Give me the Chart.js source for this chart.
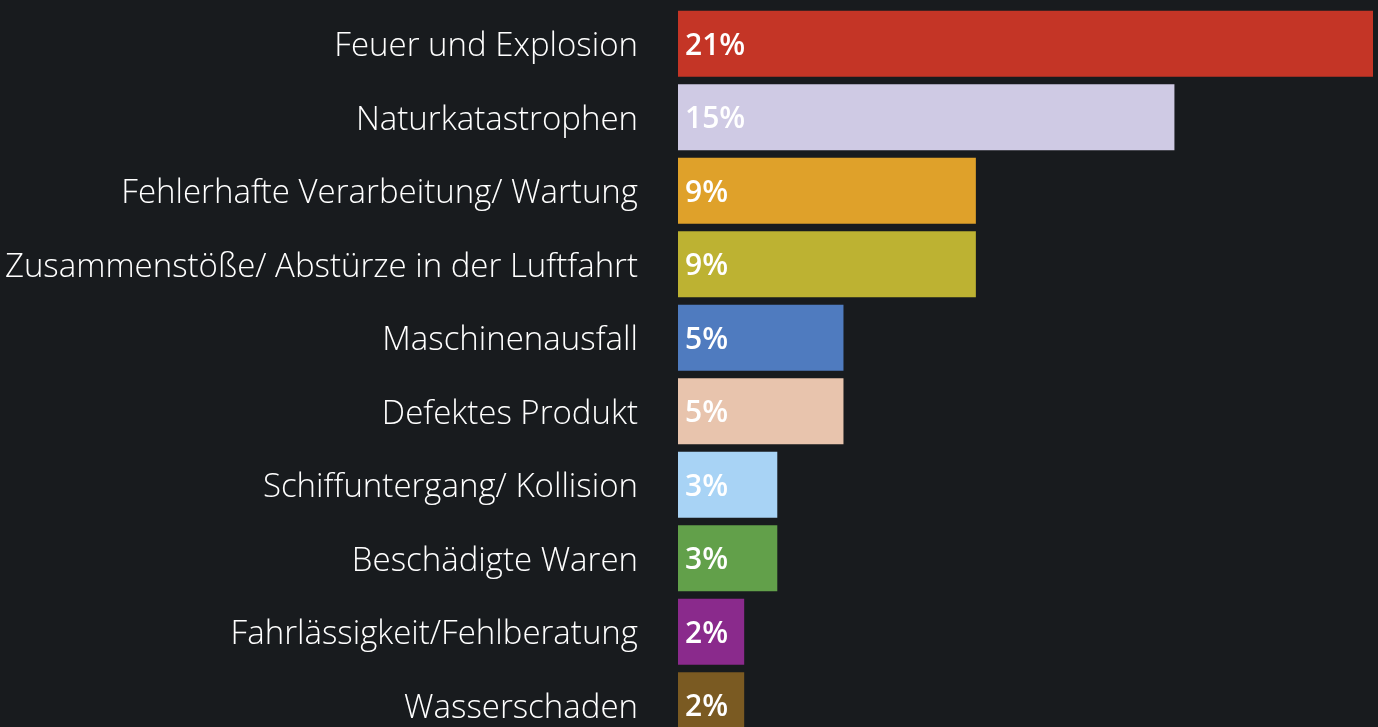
<!DOCTYPE html>
<html>
<head>
<meta charset="utf-8">
<script src="https://cdn.jsdelivr.net/npm/chart.js@4"></script>
<style>
  html, body { margin: 0; padding: 0; background: #181b1e; overflow: hidden; }
  #wrap { width: 1378px; height: 742px; }
</style>
</head>
<body>
<div id="wrap"><canvas id="lossChart"></canvas></div>
<script>
const categories = [
  'Feuer und Explosion',
  'Naturkatastrophen',
  'Fehlerhafte Verarbeitung/ Wartung',
  'Zusammenstöße/ Abstürze in der Luftfahrt',
  'Maschinenausfall',
  'Defektes Produkt',
  'Schiffuntergang/ Kollision',
  'Beschädigte Waren',
  'Fahrlässigkeit/Fehlberatung',
  'Wasserschaden'
];
const shares = [21, 15, 9, 9, 5, 5, 3, 3, 2, 2];
const barColors = [
  '#c43526', '#cfcae4', '#dfa12a', '#bdb232', '#4f7bbf',
  '#e8c4ad', '#a8d3f5', '#62a04a', '#8a2a8c', '#7a5a22'
];

// value labels inside the bars
const valueLabels = {
  id: 'valueLabels',
  afterDatasetsDraw(chart) {
    const ctx = chart.ctx;
    const meta = chart.getDatasetMeta(0);
    ctx.save();
    ctx.fillStyle = '#ffffff';
    ctx.font = '600 30px "Open Sans", sans-serif';
    ctx.textAlign = 'left';
    ctx.textBaseline = 'alphabetic';
    meta.data.forEach(function (bar, i) {
      ctx.fillText(shares[i] + '%', bar.base + 7, bar.y + 11);
    });
    ctx.restore();
  }
};

const ctx = document.getElementById('lossChart').getContext('2d');

new Chart(ctx, {
  type: 'bar',
  data: {
    labels: categories,
    datasets: [{
      data: shares,
      backgroundColor: barColors,
      borderWidth: 0,
      categoryPercentage: 1,
      barPercentage: 0.9
    }]
  },
  options: {
    indexAxis: 'y',
    responsive: true,
    maintainAspectRatio: false,
    animation: false,
    layout: { padding: { top: 7, right: 5, bottom: 0, left: 0 } },
    plugins: {
      legend: { display: false },
      tooltip: { enabled: false }
    },
    scales: {
      x: {
        min: 0,
        max: 21,
        display: false,
        grid: { display: false }
      },
      y: {
        grid: { display: false, drawTicks: false },
        border: { display: false },
        afterFit(scale) {
          scale.width = 678;
          scale.paddingTop = 0;
          scale.paddingBottom = 0;
        },
        ticks: {
          color: '#ffffff',
          padding: 40,
          labelOffset: 3,
          font: { family: 'Open Sans', weight: '300', size: 33 }
        }
      }
    }
  },
  plugins: [valueLabels]
});
</script>
</body>
</html>
